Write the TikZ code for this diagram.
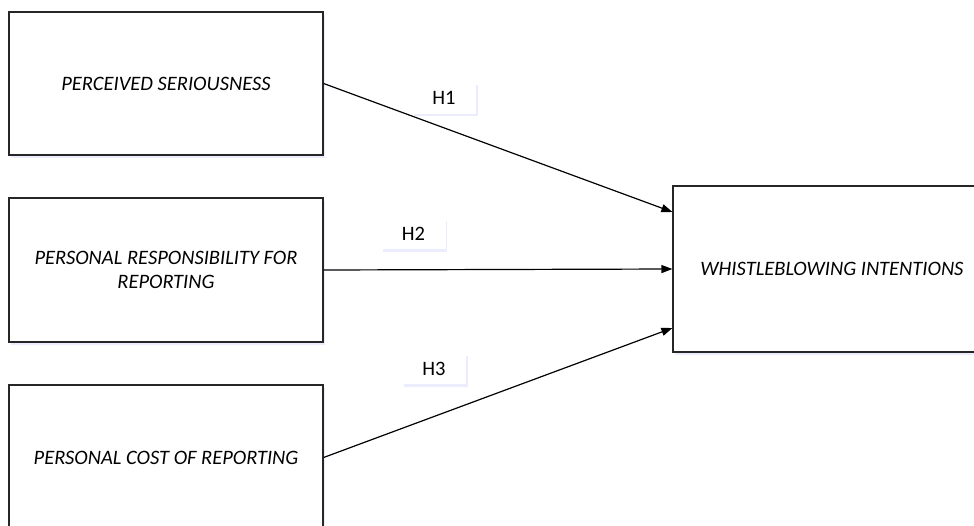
\documentclass[tikz,border=0pt]{standalone}
\usepackage{fontspec}
\setmainfont{Carlito}
\usetikzlibrary{arrows.meta,shadows}
\begin{document}
\begin{tikzpicture}[x=1pt,y=-1pt,
  construct/.style={draw=black!85,line width=1.2pt,fill=white,minimum width=314pt,inner sep=0pt,
    font=\fontsize{20.5}{24}\selectfont\itshape,align=center,
    drop shadow={shadow xshift=1.5pt,shadow yshift=-2.5pt,fill=blue!12,opacity=0.6}},
  hlabel/.style={fill=white,minimum width=64pt,minimum height=31pt,inner sep=0pt,
    font=\fontsize{20.5}{22}\selectfont,
    drop shadow={shadow xshift=1.5pt,shadow yshift=-2.5pt,fill=blue!15,opacity=0.5}},
  link/.style={line width=1.2pt,-{Triangle[length=11pt,width=8pt]}}]
\useasboundingbox (0,0) rectangle (974,525);
\node[construct,minimum height=143pt] (b1) at (166,83.5) {PERCEIVED SERIOUSNESS};
\node[construct,minimum height=144pt] (b2) at (166,270) {PERSONAL RESPONSIBILITY FOR\\REPORTING};
\node[construct,minimum height=145pt] (b3) at (166,457.5) {PERSONAL COST OF REPORTING};
\node[construct,minimum width=318pt,minimum height=166pt] (w) at (832,269) {WHISTLEBLOWING INTENTIONS};
\coordinate (t1) at ([yshift=57pt]w.west);
\coordinate (t3) at ([yshift=-59pt]w.west);
\draw[link] (b1.east) -- (t1);
\draw[link] (b2.east) -- (w.west);
\draw[link] (b3.east) -- (t3);
\node[hlabel] (h1) at (444,98) {H1};
\node[hlabel] (h2) at (413.5,233.5) {H2};
\node[hlabel] (h3) at (434,368.5) {H3};
\end{tikzpicture}
\end{document}
